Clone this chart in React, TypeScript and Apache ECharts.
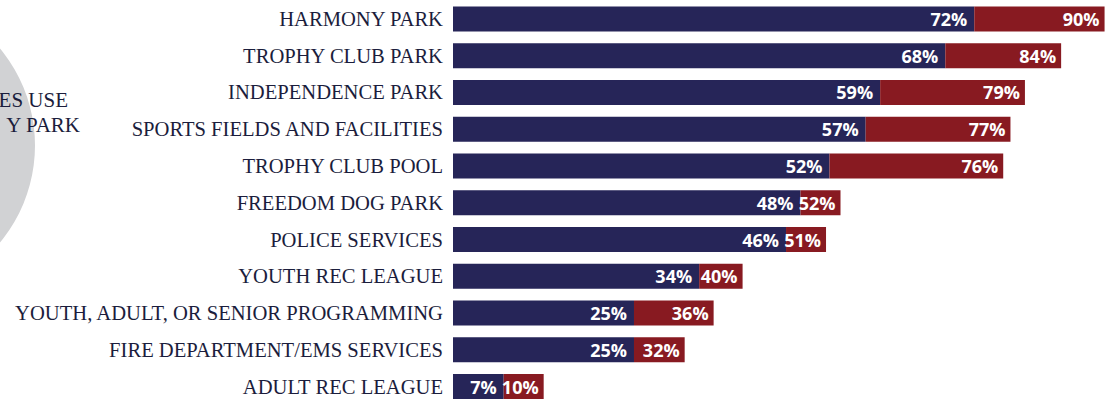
import React, { useEffect, useRef } from "react";
import * as echarts from "echarts";

const categories = [
  "HARMONY PARK",
  "TROPHY CLUB PARK",
  "INDEPENDENCE PARK",
  "SPORTS FIELDS AND FACILITIES",
  "TROPHY CLUB POOL",
  "FREEDOM DOG PARK",
  "POLICE SERVICES",
  "YOUTH REC LEAGUE",
  "YOUTH, ADULT, OR SENIOR PROGRAMMING",
  "FIRE DEPARTMENT/EMS SERVICES",
  "ADULT REC LEAGUE",
];
const navyValues = [72, 68, 59, 57, 52, 48, 46, 34, 25, 25, 7];
const redValues = [90, 84, 79, 77, 76, 52, 51, 40, 36, 32, 10];
const sideText = ["ES USE", "Y PARK"];

const NAVY = "#262558";
const RED = "#881a21";
const TEXT = "#1b1d3c";

export default function App() {
  const ref = useRef<HTMLDivElement>(null);
  useEffect(() => {
    if (!ref.current) return;
    const chart = echarts.init(ref.current, undefined, { renderer: "svg" });
    const diffs = redValues.map((v, i) => v - navyValues[i]);
    chart.setOption({
      animation: false,
      graphic: [
        {
          type: "circle",
          shape: { cx: -117, cy: 145.5, r: 152 },
          style: { fill: "#d1d2d4" },
          z: 0,
        },
        {
          type: "text",
          style: {
            text: sideText[0],
            x: 68,
            y: 100,
            textAlign: "right",
            textVerticalAlign: "middle",
            font: '21px "Liberation Serif"',
            fill: TEXT,
          },
          z: 1,
        },
        {
          type: "text",
          style: {
            text: sideText[1],
            x: 80,
            y: 125,
            textAlign: "right",
            textVerticalAlign: "middle",
            font: '21px "Liberation Serif"',
            fill: TEXT,
          },
          z: 1,
        },
      ],
      grid: { left: 453, top: 0.5, right: 0, height: 407, containLabel: false },
      xAxis: {
        type: "value",
        min: 0,
        max: 90.75,
        show: false,
      },
      yAxis: {
        type: "category",
        data: categories,
        inverse: true,
        axisLine: { show: false },
        axisTick: { show: false },
        splitLine: { show: false },
        axisLabel: {
          margin: 10,
          color: TEXT,
          fontFamily: '"Liberation Serif", serif',
          fontSize: 20.6,
        },
      },
      series: [
        {
          type: "bar",
          stack: "total",
          data: navyValues,
          barWidth: 25,
          itemStyle: { color: NAVY },
          label: {
            show: true,
            position: "insideRight",
            distance: 7,
            formatter: (p: any) => `${navyValues[p.dataIndex]}%`,
            color: "#ffffff",
            fontFamily: '"Open Sans", sans-serif',
            fontWeight: 700,
            fontSize: 18,
          },
        },
        {
          type: "bar",
          stack: "total",
          data: diffs,
          barWidth: 25,
          barMinHeight: 40,
          itemStyle: { color: RED },
          label: {
            show: true,
            position: "insideRight",
            distance: 5,
            formatter: (p: any) => `${redValues[p.dataIndex]}%`,
            color: "#ffffff",
            fontFamily: '"Open Sans", sans-serif',
            fontWeight: 700,
            fontSize: 18,
          },
        },
      ],
    });
    return () => chart.dispose();
  }, []);
  return (
    <div
      ref={ref}
      style={{ position: "fixed", left: 0, top: 0, width: 1110, height: 405, background: "#ffffff" }}
    />
  );
}
